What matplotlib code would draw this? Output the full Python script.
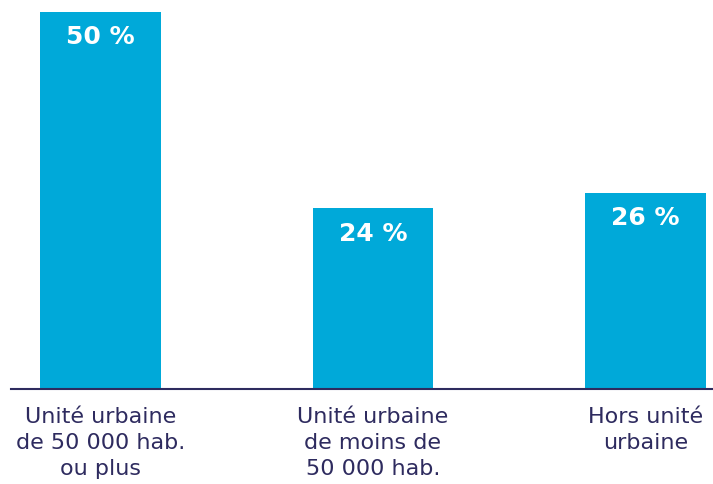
import matplotlib.pyplot as plt

CATEGORIES = ['Unité urbaine\nde 50 000 hab.\nou plus',
              'Unité urbaine\nde moins de\n50 000 hab.',
              'Hors unité\nurbaine']
VALUES = [50, 24, 26]

BAR_COLOR = '#00a9d9'
TEXT_COLOR = '#2e2b5f'

fig = plt.figure(figsize=(7.13, 4.85), dpi=100)
# axes placed in pixels: left 11, baseline at 390 from top, top of 50 % bar at 13
ax = fig.add_axes([11 / 713, 95 / 485, 702 / 713, 377 / 485])

x = list(range(len(VALUES)))
ax.bar(x, VALUES, width=0.444, color=BAR_COLOR)

for xi, v in zip(x, VALUES):
    ax.annotate(f'{v} %', (xi, v), xytext=(0, -9), textcoords='offset points',
                ha='center', va='top', color='white', fontsize=18,
                fontweight='bold', family='DejaVu Sans')

ax.set_xlim((11 - 100.5) / 272.5, (713 - 100.5) / 272.5)
ax.set_ylim(0, 50)

ax.set_xticks(x)
ax.set_xticklabels(CATEGORIES, color=TEXT_COLOR, fontsize=16,
                   family='DejaVu Sans', linespacing=1.38)
ax.tick_params(axis='x', length=0, pad=12)
ax.set_yticks([])

for s in ['top', 'right', 'left']:
    ax.spines[s].set_visible(False)
ax.spines['bottom'].set_color(TEXT_COLOR)
ax.spines['bottom'].set_linewidth(1.5)

fig.savefig('out.png', dpi=100)
